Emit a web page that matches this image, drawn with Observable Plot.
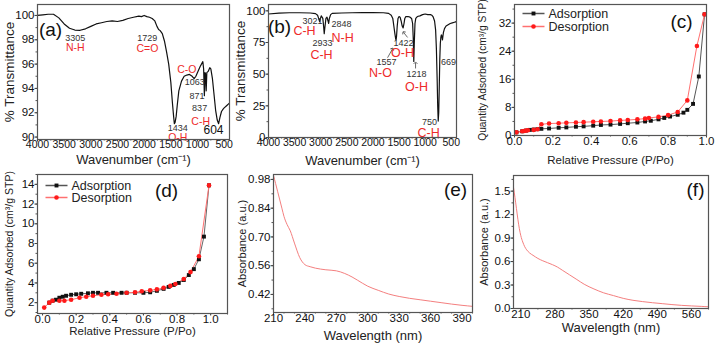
<!DOCTYPE html>
<html><head><meta charset="utf-8">
<script src="https://cdn.jsdelivr.net/npm/d3@7"></script>
<script src="https://cdn.jsdelivr.net/npm/@observablehq/plot@0.6"></script>
<style>
body{margin:0;background:#fff}
#wrap{position:relative;width:715px;height:346px;overflow:hidden;background:#fff}
#wrap svg{position:absolute;left:0;top:0;overflow:visible}
</style></head><body><div id="wrap"></div>
<script>
// ---------- (a) FTIR ----------
const aWave = [4000,3900,3800,3700,3600,3500,3400,3300,3200,3100,3000,2900,2800,2700,2600,2500,2400,2300,2200,2100,2050,2000,1950,1900,1850,1800,1760,1729,1700,1660,1620,1580,1540,1500,1470,1450,1434,1420,1400,1380,1350,1300,1250,1200,1150,1100,1063,1030,1000,950,900,885,871,860,850,837,825,800,770,750,720,690,660,630,604,580,550,520,500,450,400];
const aTrans = [100.0,100.05,100.1,100.1,99.8,99.3,98.95,98.8,98.78,98.9,99.1,99.3,99.4,99.5,99.55,99.5,99.6,99.75,99.85,99.95,99.9,100.0,99.9,99.85,99.75,99.55,99.1,98.85,98.75,98.5,97.9,97.0,96.0,94.5,92.8,91.8,91.1,91.2,91.7,92.6,93.8,94.6,95.0,95.1,95.15,95.0,94.8,95.0,95.3,95.8,96.2,95.6,93.4,95.3,95.2,93.8,95.3,95.4,95.7,95.6,94.8,93.5,92.2,91.4,91.1,91.6,92.1,92.3,92.4,92.6,92.8];
const aNoteText = ["3305","N-H","1729","C=O","C-O","1063","871","837","C-H","1434","O-H","604"];
const aNoteX = [3290,3290,1940,1940,1200,1050,1010,960,940,1370,1370,700];
const aNoteY = [98.1,97.35,98.1,97.3,95.55,94.5,93.4,92.35,91.3,90.7,89.95,90.6];
const aNoteKind = ["num","grp","num","grp","grp","num","num","num","grp","num","grp","big"];

// ---------- (b) FTIR ----------
const bWave = [4000,3800,3600,3400,3200,3100,3060,3040,3021,3005,2990,2960,2945,2933,2920,2900,2880,2860,2848,2835,2810,2780,2600,2400,2200,2000,1800,1700,1650,1620,1600,1580,1565,1557,1548,1535,1520,1500,1480,1460,1440,1422,1405,1390,1370,1330,1290,1260,1240,1228,1218,1208,1195,1180,1150,1100,1050,1000,950,900,870,850,820,800,785,770,760,750,740,730,720,710,700,690,680,669,660,650,630,600,560,520,480,440,400];
const bTrans = [97.5,98.2,98.5,98.5,98.3,97.8,96.5,94,91.5,94,96,94,88,82,87,94,95,92,90,94,97,98,98.3,98.5,98.6,98.7,98.5,98.0,96.5,94,88,82,78,77,80,88,94,95.5,95,92,88,86.5,90,94,95.5,95.5,95,94,90,78,60,75,90,94,95.5,96,97,97.5,97,97,96.5,95.5,92,85,70,45,25,13,20,40,62,74,79,81,80,77,80,83,86,88,89,90,90.5,91,91.5];
const bNoteText = ["3021","C-H","2848","N-H","2933","C-H","1557","N-O","1422","O-H","1218","O-H","669","750","C-H"];
const bNoteX = [3157,3310,2600,2580,2966,2985,1740,1855,1414,1433,1165,1165,552,916,935];
const bNoteY = [91.6,83.7,89.2,78.9,74.2,65.5,59.2,51.3,74.2,67.1,49.7,39.5,59.2,12.0,3.2];
const bNoteKind = ["num","grp","num","grp","num","grp","num","grp","num","grp","num","grp","num","num","grp"];
const bArrowX1 = [1720,1337,1184], bArrowY1 = [63,79,54.5];
const bArrowX2 = [1625,1414,1184], bArrowY2 = [70,83,59];

// ---------- (c) BET ----------
const cAdsP = [0.01,0.04,0.06,0.08,0.10,0.12,0.14,0.18,0.23,0.27,0.32,0.36,0.41,0.45,0.50,0.55,0.59,0.64,0.68,0.71,0.75,0.78,0.81,0.85,0.88,0.90,0.93,0.96,0.99];
const cAdsQ = [0.9,1.2,1.4,1.6,1.7,1.8,1.9,2.0,2.2,2.3,2.5,2.6,2.8,3.0,3.1,3.3,3.5,3.7,4.0,4.2,4.6,5.0,5.4,5.9,6.5,7.3,9.0,16.8,34.5];
const cDesP = [0.01,0.04,0.05,0.06,0.07,0.10,0.12,0.14,0.18,0.23,0.27,0.32,0.36,0.41,0.45,0.50,0.55,0.59,0.64,0.68,0.70,0.75,0.80,0.85,0.90,0.95,0.99];
const cDesQ = [0.9,1.2,1.3,1.4,1.5,1.6,1.8,3.2,3.4,3.5,3.6,3.7,3.8,3.9,4.0,4.1,4.3,4.4,4.6,4.8,5.0,5.3,5.8,6.7,10.0,25.5,34.5];

// ---------- (d) BET ----------
const dAdsP = [0.04,0.06,0.08,0.10,0.12,0.14,0.17,0.20,0.23,0.27,0.30,0.33,0.38,0.42,0.47,0.50,0.55,0.60,0.64,0.68,0.72,0.75,0.78,0.81,0.84,0.87,0.90,0.93,0.96,0.99];
const dAdsQ = [2.0,2.2,2.3,2.5,2.6,2.7,2.8,2.85,2.9,2.95,3.0,3.0,3.0,3.0,3.0,3.0,3.0,3.0,3.05,3.2,3.4,3.6,3.8,4.0,4.3,4.8,5.4,6.4,8.7,13.9];
const dDesP = [0.01,0.04,0.06,0.10,0.13,0.17,0.22,0.26,0.30,0.35,0.39,0.44,0.50,0.55,0.59,0.64,0.68,0.72,0.76,0.79,0.84,0.88,0.93,0.99];
const dDesQ = [1.5,2.0,2.2,2.2,2.2,2.3,2.5,2.6,2.7,2.8,2.85,2.9,3.0,3.05,3.15,3.25,3.35,3.5,3.7,3.9,4.4,5.1,6.7,13.9];

// ---------- (e) UV-vis ----------
const eWl = [210,212,214,216,218,220,223,226,230,235,240,245,250,260,270,278,285,290,300,310,320,330,340,350,360,370,380,390,400];
const eAbs = [1.0,0.96,0.92,0.88,0.84,0.80,0.76,0.73,0.67,0.60,0.565,0.555,0.548,0.54,0.535,0.522,0.505,0.49,0.46,0.44,0.422,0.41,0.401,0.394,0.387,0.38,0.373,0.367,0.362];

// ---------- (f) UV-vis ----------
const fWl = [195,198,201,204,207,210,214,218,222,228,235,245,255,265,275,285,295,310,325,340,360,380,400,420,440,460,480,500,520,540,560,580,595];
const fAbs = [1.55,1.42,1.28,1.14,1.02,0.93,0.85,0.79,0.75,0.71,0.68,0.64,0.61,0.585,0.56,0.53,0.49,0.43,0.37,0.31,0.25,0.2,0.165,0.13,0.105,0.088,0.074,0.062,0.05,0.04,0.033,0.027,0.022];

// ---------- tick labels ----------
const ticksWave = [4000,3500,3000,2500,2000,1500,1000,500];
const ticksA_y = [90,92,94,96,98,100];
const ticksB_y = [0,25,50,75,100];
const ticksP = [0,0.2,0.4,0.6,0.8,1.0];
const ticksC_y = [0,8,16,24,32];
const ticksD_y = [2,4,6,8,10,12,14];
const ticksE_x = [210,240,270,300,330,360,390];
const ticksE_y = [0.42,0.56,0.70,0.84,0.98];
const ticksF_x = [210,280,350,420,490,560];
const ticksF_y = [0,0.3,0.6,0.9,1.2,1.5];
const seriesNames = ["Adsorption","Desorption"];
const panelTags = ["(a)","(b)","(c)","(d)","(e)","(f)"];

// ---------- helpers ----------
const W = 715, H = 346;
const FONT = "Liberation Sans, Arial, sans-serif";
const RED = "#ee2a2a";
const wrap = document.getElementById("wrap");
const zip = (xs, ys) => xs.map((x, i) => ({x, y: ys[i]}));
const notes = (t, xs, ys, ks) => t.map((s, i) => ({t: s, x: xs[i], y: ys[i], k: ks[i]}));
const minor = (a, b, step) => d3.range(a, b + step / 2, step);
const lineSym = {draw(ctx) { ctx.moveTo(-11, 0); ctx.lineTo(11, 0); }};

function panel({box, x, y, xt, yt, xfmt, yfmt, xminor, yminor, xlab, ylab, xlabDy, ylabDx, xlabSize, ylabSize, xtickSize, tag, tagDx, tagDy, marks}) {
  const [l, r, t, b] = box;
  const svg = Plot.plot({
    width: W, height: H,
    marginLeft: l, marginRight: W - r, marginTop: t, marginBottom: H - b,
    style: {background: "transparent", fontFamily: FONT, fontSize: "11px", color: "#111", overflow: "visible"},
    x: {domain: x}, y: {domain: y},
    marks: [
      ...marks,
      Plot.axisX(xminor, {tickSize: 1.5, tickFormat: () => "", stroke: "#555", label: null}),
      Plot.axisY(yminor, {tickSize: 1.5, tickFormat: () => "", stroke: "#555", label: null}),
      Plot.axisX(xt, {tickSize: 2.5, tickFormat: () => "", stroke: "#444", label: null}),
      Plot.axisY(yt, {tickSize: 2.5, tickFormat: () => "", stroke: "#444", label: null}),
      Plot.axisX(xt, {tickSize: 0, tickPadding: 1, tickFormat: xfmt, fontSize: xtickSize, fill: "#111", label: null}),
      Plot.axisY(yt, {tickSize: 0, tickPadding: 3, tickFormat: yfmt, fontSize: 11.5, fill: "#111", label: null}),
      Plot.frame({stroke: "#555", strokeWidth: 1.2}),
      Plot.text([xlab], {frameAnchor: "bottom", dy: xlabDy, fontSize: xlabSize, textAnchor: "middle", lineAnchor: "middle", fill: "#222"}),
      Plot.text([ylab], {frameAnchor: "left", dx: ylabDx, rotate: -90, fontSize: ylabSize, textAnchor: "middle", lineAnchor: "middle", fill: "#222"}),
      Plot.text([tag], {frameAnchor: "top-left", dx: tagDx, dy: tagDy, fontSize: 19, textAnchor: "middle", lineAnchor: "middle", fill: "#111"})
    ]
  });
  wrap.append(svg);
}

function legendMarks(dx, dy1, dy2) {
  return [
    Plot.dot([0], {frameAnchor: "top-left", dx, dy: dy1, symbol: lineSym, stroke: "#555", r: 3}),
    Plot.dot([0], {frameAnchor: "top-left", dx, dy: dy1, symbol: "square", fill: "#111", r: 2.2}),
    Plot.text([seriesNames[0]], {frameAnchor: "top-left", dx: dx + 15, dy: dy1, fontSize: 12.5, textAnchor: "start", lineAnchor: "middle", fill: "#222"}),
    Plot.dot([0], {frameAnchor: "top-left", dx, dy: dy2, symbol: lineSym, stroke: "#ff7070", r: 3}),
    Plot.dot([0], {frameAnchor: "top-left", dx, dy: dy2, symbol: "circle", fill: "#ff1a1a", r: 2.3}),
    Plot.text([seriesNames[1]], {frameAnchor: "top-left", dx: dx + 15, dy: dy2, fontSize: 12.5, textAnchor: "start", lineAnchor: "middle", fill: "#222"})
  ];
}

function noteMarks(rows, grpSize, bigSize) {
  return [
    Plot.text(rows.filter(d => d.k === "num"), {x: "x", y: "y", text: "t", fontSize: 9, fill: "#333"}),
    Plot.text(rows.filter(d => d.k === "grp"), {x: "x", y: "y", text: "t", fontSize: grpSize, fill: RED}),
    Plot.text(rows.filter(d => d.k === "big"), {x: "x", y: "y", text: "t", fontSize: bigSize, fill: "#111"})
  ];
}

const fmtInt = d => String(d);
const fmt1 = d => d.toFixed(1);
const fmt2 = d => d.toFixed(2);

// (a)
panel({
  box: [37, 229, 4, 139], x: [4000, 400], y: [89.8, 100.9],
  xt: ticksWave, yt: ticksA_y, xfmt: fmtInt, yfmt: fmtInt, xtickSize: 10.5,
  xminor: minor(500, 4000, 250), yminor: minor(90, 100, 1),
  xlab: "Wavenumber (cm⁻¹)", ylab: "% Transmittance", xlabDy: 20, ylabDx: -28, xlabSize: 13, ylabSize: 13.5,
  tag: panelTags[0], tagDx: 13, tagDy: 25,
  marks: [
    Plot.line(zip(aWave, aTrans), {x: "x", y: "y", stroke: "#111", strokeWidth: 1.2, clip: true}),
    ...noteMarks(notes(aNoteText, aNoteX, aNoteY, aNoteKind), 10.5, 12)
  ]
});

// (b)
panel({
  box: [268, 456, 4, 137], x: [4000, 400], y: [0, 105],
  xt: ticksWave, yt: ticksB_y, xfmt: fmtInt, yfmt: fmtInt, xtickSize: 10.5,
  xminor: minor(500, 4000, 250), yminor: minor(0, 100, 12.5),
  xlab: "Wavenumber (cm⁻¹)", ylab: "% Transmittance", xlabDy: 23, ylabDx: -28, xlabSize: 13, ylabSize: 13.5,
  tag: panelTags[1], tagDx: 11, tagDy: 22,
  marks: [
    Plot.line(zip(bWave, bTrans), {x: "x", y: "y", stroke: "#111", strokeWidth: 1.2, clip: true}),
    Plot.link(bArrowX1.map((x, i) => ({x1: x, y1: bArrowY1[i], x2: bArrowX2[i], y2: bArrowY2[i]})), {x1: "x1", y1: "y1", x2: "x2", y2: "y2", stroke: "#444", strokeWidth: 0.8, markerEnd: "arrow"}),
    ...noteMarks(notes(bNoteText, bNoteX, bNoteY, bNoteKind), 12.5, 12)
  ]
});

// (c)
panel({
  box: [514, 706, 4, 135], x: [0, 1.0], y: [0, 37.3],
  xt: ticksP, yt: ticksC_y, xfmt: fmt1, yfmt: fmtInt, xtickSize: 11.5,
  xminor: minor(0, 1, 0.1), yminor: minor(0, 36, 4),
  xlab: "Relative Pressure (P/Po)", ylab: "Quantity Adsorbed (cm³/g STP)", xlabDy: 25, ylabDx: -32, xlabSize: 11.5, ylabSize: 10.2,
  tag: panelTags[2], tagDx: 167, tagDy: 17,
  marks: [
    Plot.line(zip(cAdsP, cAdsQ), {x: "x", y: "y", stroke: "#555", strokeWidth: 1}),
    Plot.line(zip(cDesP, cDesQ), {x: "x", y: "y", stroke: "#ff7070", strokeWidth: 1}),
    Plot.dot(zip(cAdsP, cAdsQ), {x: "x", y: "y", symbol: "square", fill: "#111", r: 2.2}),
    Plot.dot(zip(cDesP, cDesQ), {x: "x", y: "y", symbol: "circle", fill: "#ff1a1a", r: 2.3}),
    ...legendMarks(19, 9, 22)
  ]
});

// (d)
panel({
  box: [37, 227, 174, 313], x: [-0.03, 1.1], y: [0.9, 15],
  xt: ticksP, yt: ticksD_y, xfmt: fmt1, yfmt: fmtInt, xtickSize: 11.5,
  xminor: minor(0, 1.1, 0.1), yminor: minor(1, 15, 1),
  xlab: "Relative Pressure (P/Po)", ylab: "Quantity Adsorbed (cm³/g STP)", xlabDy: 18, ylabDx: -28, xlabSize: 11.5, ylabSize: 10.5,
  tag: panelTags[3], tagDx: 129, tagDy: 16,
  marks: [
    Plot.line(zip(dAdsP, dAdsQ), {x: "x", y: "y", stroke: "#666", strokeWidth: 1}),
    Plot.line(zip(dDesP, dDesQ), {x: "x", y: "y", stroke: "#ff7070", strokeWidth: 1}),
    Plot.dot(zip(dAdsP, dAdsQ), {x: "x", y: "y", symbol: "square", fill: "#111", r: 2.2}),
    Plot.dot(zip(dDesP, dDesQ), {x: "x", y: "y", symbol: "circle", fill: "#ff1a1a", r: 2.3}),
    ...legendMarks(19, 11, 23)
  ]
});

// (e)
panel({
  box: [273, 472, 174, 312], x: [210, 400], y: [0.332, 1.004],
  xt: ticksE_x, yt: ticksE_y, xfmt: fmtInt, yfmt: fmt2, xtickSize: 11.5,
  xminor: minor(210, 400, 10), yminor: minor(0.35, 1.0, 0.07),
  xlab: "Wavelength (nm)", ylab: "Absorbance (a.u.)", xlabDy: 23, ylabDx: -31, xlabSize: 13, ylabSize: 11,
  tag: panelTags[4], tagDx: 182, tagDy: 15,
  marks: [
    Plot.line(zip(eWl, eAbs), {x: "x", y: "y", stroke: "#f47f7f", strokeWidth: 1, curve: "monotone-x", clip: true})
  ]
});

// (f)
panel({
  box: [513, 708, 175, 308], x: [195, 595], y: [0, 1.7],
  xt: ticksF_x, yt: ticksF_y, xfmt: fmtInt, yfmt: fmt1, xtickSize: 11.5,
  xminor: minor(210, 595, 35), yminor: minor(0, 1.65, 0.15),
  xlab: "Wavelength (nm)", ylab: "Absorbance (a.u.)", xlabDy: 19, ylabDx: -29, xlabSize: 13, ylabSize: 11,
  tag: panelTags[5], tagDx: 182, tagDy: 14,
  marks: [
    Plot.line(zip(fWl, fAbs), {x: "x", y: "y", stroke: "#f47f7f", strokeWidth: 1, curve: "monotone-x", clip: true})
  ]
});
</script>
</body></html>
